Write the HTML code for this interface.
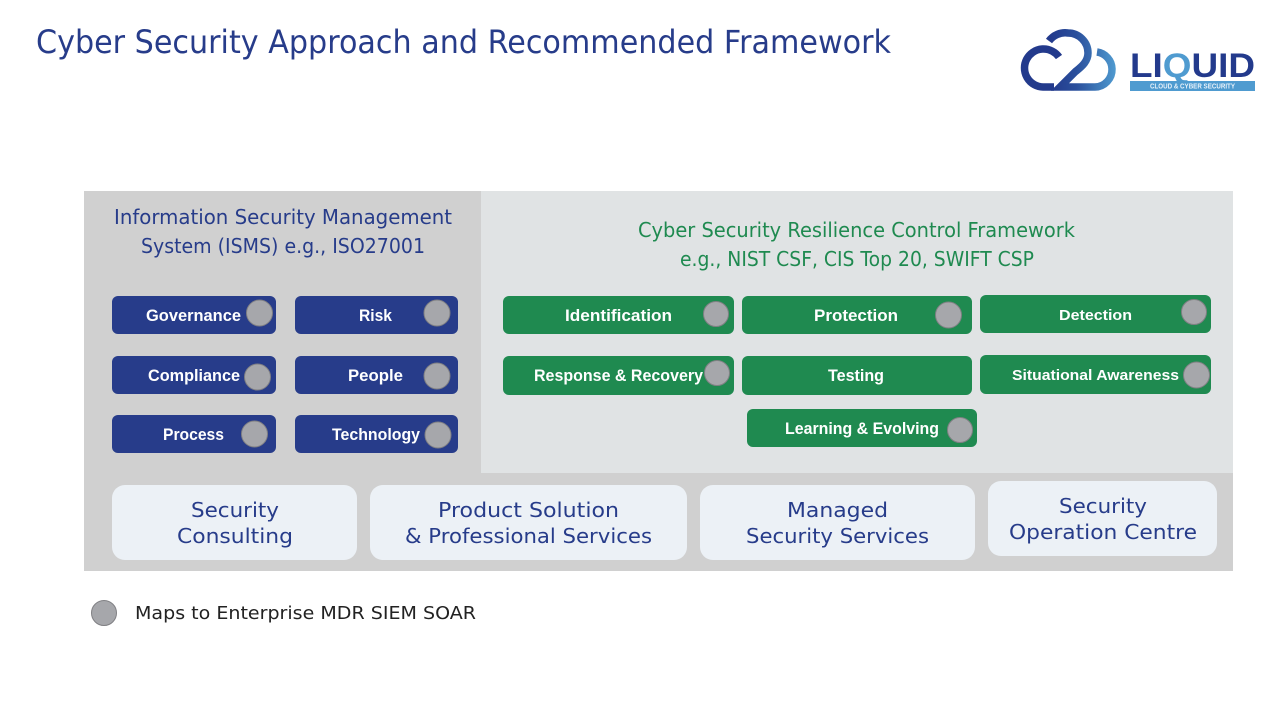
<!DOCTYPE html>
<html><head><meta charset="utf-8"><title>Cyber Security Approach and Recommended Framework</title>
<style>
html,body{margin:0;padding:0;background:#fff;width:1280px;height:720px;overflow:hidden}
svg{display:block}
text{font-family:"DejaVu Sans","Liberation Sans",sans-serif}
.h{fill:#273c8a}
.g{fill:#1f8a50}
.b{font-family:"Liberation Sans",sans-serif;font-weight:700;fill:#fff;font-size:17px}
.m{font-family:"DejaVu Sans",sans-serif;fill:#273c8a;font-size:20px}
.c{fill:#a6a7ab;stroke:#808084;stroke-width:1}
</style></head><body>
<svg width="1280" height="720" viewBox="0 0 1280 720" xmlns="http://www.w3.org/2000/svg">
<defs>
<linearGradient id="lg" x1="1050" y1="0" x2="1116" y2="0" gradientUnits="userSpaceOnUse">
<stop offset="0" stop-color="#233a8c"/><stop offset=".4" stop-color="#2a4f9c"/><stop offset="1" stop-color="#4f9bd0"/>
</linearGradient>
</defs>
<rect width="1280" height="720" fill="#fff"/>
<text x="36" y="53" font-size="32" class="h" textLength="855" lengthAdjust="spacingAndGlyphs">Cyber Security Approach and Recommended Framework</text>

<!-- logo -->
<g fill="none" stroke-linecap="butt" stroke-linejoin="miter">
<path d="M1059 57 A19 19 0 1 0 1043 87 L1054 87" stroke="#233a8c" stroke-width="7.500"/>
<path d="M1049 41 A20 20 0 0 1 1068 33 A20 20 0 0 1 1088 53 C1088 62 1081 67 1075 72 L1060 87 L1095 87 A17.500 17.500 0 0 0 1112 69 A17.500 17.500 0 0 0 1097 52" stroke="url(#lg)" stroke-width="7.500"/>
</g>
<text x="1130" y="77" font-size="34" font-weight="700" style='font-family:"Liberation Sans",sans-serif' fill="#233a8c" textLength="125" lengthAdjust="spacingAndGlyphs">LI<tspan fill="#4f9bd0">Q</tspan>UID</text>
<rect x="1130" y="81" width="125" height="10" fill="#4f9bd0"/>
<text x="1150" y="88.500" font-size="7" font-weight="700" style='font-family:"Liberation Sans",sans-serif' fill="#e8f2fa" textLength="85" lengthAdjust="spacingAndGlyphs">CLOUD &amp; CYBER SECURITY</text>

<!-- panels -->
<rect x="84" y="191" width="1149" height="380" fill="#d0d0d0"/>
<rect x="481" y="191" width="752" height="282" fill="#e0e3e4"/>

<text x="114" y="224" font-size="20" class="h" textLength="338" lengthAdjust="spacingAndGlyphs">Information Security Management</text>
<text x="141" y="253" font-size="20" class="h" textLength="284" lengthAdjust="spacingAndGlyphs">System (ISMS) e.g., ISO27001</text>
<text x="638" y="237" font-size="20" class="g" textLength="437" lengthAdjust="spacingAndGlyphs">Cyber Security Resilience Control Framework</text>
<text x="680" y="266" font-size="20" class="g" textLength="354" lengthAdjust="spacingAndGlyphs">e.g., NIST CSF, CIS Top 20, SWIFT CSP</text>

<!-- blue buttons -->
<g fill="#273c8a">
<rect x="112" y="296" width="164" height="38" rx="6"/>
<rect x="295" y="296" width="163" height="38" rx="6"/>
<rect x="112" y="356" width="164" height="38" rx="6"/>
<rect x="295" y="356" width="163" height="38" rx="6"/>
<rect x="112" y="415" width="164" height="38" rx="6"/>
<rect x="295" y="415" width="163" height="38" rx="6"/>
</g>
<text class="b" x="146" y="321" textLength="95" lengthAdjust="spacingAndGlyphs">Governance</text>
<text class="b" x="359" y="321" textLength="33" lengthAdjust="spacingAndGlyphs">Risk</text>
<text class="b" x="148" y="381" textLength="92" lengthAdjust="spacingAndGlyphs">Compliance</text>
<text class="b" x="348" y="381" textLength="55" lengthAdjust="spacingAndGlyphs">People</text>
<text class="b" x="163" y="440" textLength="61" lengthAdjust="spacingAndGlyphs">Process</text>
<text class="b" x="332" y="440" textLength="88" lengthAdjust="spacingAndGlyphs">Technology</text>

<!-- green buttons -->
<g fill="#1f8a50">
<rect x="503" y="296" width="231" height="38" rx="6"/>
<rect x="742" y="296" width="230" height="38" rx="6"/>
<rect x="980" y="295" width="231" height="38" rx="6"/>
<rect x="503" y="356" width="231" height="39" rx="6"/>
<rect x="742" y="356" width="230" height="39" rx="6"/>
<rect x="980" y="355" width="231" height="39" rx="6"/>
<rect x="747" y="409" width="230" height="38" rx="6"/>
</g>
<text class="b" x="565" y="321" textLength="107" lengthAdjust="spacingAndGlyphs">Identification</text>
<text class="b" x="814" y="321" textLength="84" lengthAdjust="spacingAndGlyphs">Protection</text>
<text class="b" x="1059" y="320" style="font-size:15px" textLength="73" lengthAdjust="spacingAndGlyphs">Detection</text>
<text class="b" x="534" y="381" textLength="169" lengthAdjust="spacingAndGlyphs">Response &amp; Recovery</text>
<text class="b" x="828" y="381" textLength="56" lengthAdjust="spacingAndGlyphs">Testing</text>
<text class="b" x="1012" y="380" style="font-size:15px" textLength="167" lengthAdjust="spacingAndGlyphs">Situational Awareness</text>
<text class="b" x="785" y="434" textLength="154" lengthAdjust="spacingAndGlyphs">Learning &amp; Evolving</text>

<!-- circles -->
<circle class="c" cx="259.500" cy="313" r="13"/>
<circle class="c" cx="437" cy="313" r="13"/>
<circle class="c" cx="257.500" cy="377" r="13"/>
<circle class="c" cx="437" cy="376" r="13"/>
<circle class="c" cx="254.500" cy="434" r="13"/>
<circle class="c" cx="438" cy="435" r="13"/>
<circle class="c" cx="716" cy="314" r="12.500"/>
<circle class="c" cx="948.500" cy="315" r="13"/>
<circle class="c" cx="1194" cy="312" r="12.500"/>
<circle class="c" cx="717" cy="373" r="12.500"/>
<circle class="c" cx="1196.500" cy="375" r="13"/>
<circle class="c" cx="960" cy="430" r="12.500"/>

<!-- bottom boxes -->
<g fill="#ecf1f6">
<rect x="112" y="485" width="245" height="75" rx="13"/>
<rect x="370" y="485" width="317" height="75" rx="13"/>
<rect x="700" y="485" width="275" height="75" rx="13"/>
<rect x="988" y="481" width="229" height="75" rx="13"/>
</g>
<text class="m" x="191" y="517" textLength="88" lengthAdjust="spacingAndGlyphs">Security</text>
<text class="m" x="177" y="543" textLength="116" lengthAdjust="spacingAndGlyphs">Consulting</text>
<text class="m" x="438" y="517" textLength="181" lengthAdjust="spacingAndGlyphs">Product Solution</text>
<text class="m" x="405" y="543" textLength="247" lengthAdjust="spacingAndGlyphs">&amp; Professional Services</text>
<text class="m" x="787" y="517" textLength="101" lengthAdjust="spacingAndGlyphs">Managed</text>
<text class="m" x="746" y="543" textLength="183" lengthAdjust="spacingAndGlyphs">Security Services</text>
<text class="m" x="1059" y="513" textLength="88" lengthAdjust="spacingAndGlyphs">Security</text>
<text class="m" x="1009" y="539" textLength="188" lengthAdjust="spacingAndGlyphs">Operation Centre</text>

<!-- legend -->
<circle class="c" cx="104" cy="613" r="12.500"/>
<text x="135" y="619" font-size="18" fill="#222" textLength="341" lengthAdjust="spacingAndGlyphs">Maps to Enterprise MDR SIEM SOAR</text>
</svg>
</body></html>
